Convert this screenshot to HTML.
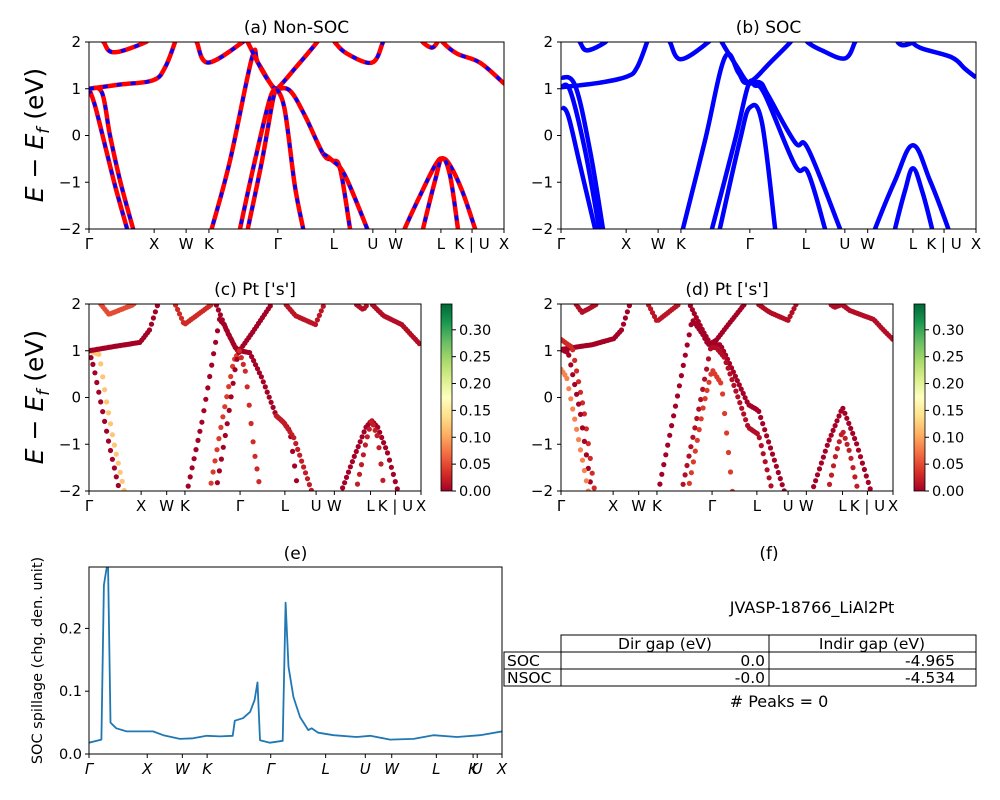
<!DOCTYPE html>
<html><head><meta charset="utf-8"><style>
html,body{margin:0;padding:0;background:#fff;}
svg{display:block;font-family:"DejaVu Sans","Liberation Sans",sans-serif;}
</style></head><body>
<svg id="fig" width="1000" height="800" viewBox="0 0 1000 800" xmlns="http://www.w3.org/2000/svg">
<defs>
<linearGradient id="rdylgn" x1="0" y1="1" x2="0" y2="0">
<stop offset="0" stop-color="#a50026"/><stop offset="0.1" stop-color="#d73027"/><stop offset="0.2" stop-color="#f46d43"/><stop offset="0.3" stop-color="#fdae61"/><stop offset="0.4" stop-color="#fee08b"/><stop offset="0.5" stop-color="#ffffbf"/><stop offset="0.6" stop-color="#d9ef8b"/><stop offset="0.7" stop-color="#a6d96a"/><stop offset="0.8" stop-color="#66bd63"/><stop offset="0.9" stop-color="#1a9850"/><stop offset="1" stop-color="#006837"/>
</linearGradient>
</defs>
</svg>
<script>
// ---------- data ----------
const bandTickLabels = ["Γ","X","W","K","Γ","L","U","W","L","K | U","X"];
const bandTickPos = [0,0.157,0.234,0.289,0.455,0.59,0.684,0.739,0.848,0.923,1];
const energyTicks = [-2,-1,0,1,2];
// non-SOC bands: [k, E] pairs
const nsocBands = [
 [[0,1.0],[0.0145,0.64],[0.0386,-0.21],[0.0627,-1.07],[0.0916,-1.99],[0.095,-2.1]],
 [[0,1.0],[0.031,0.92],[0.0506,0],[0.0747,-0.96],[0.106,-1.99],[0.11,-2.1]],
 [[0,1.0],[0.0747,1.09],[0.154,1.18],[0.183,1.45],[0.207,1.99],[0.21,2.1]],
 [[0.03,2.1],[0.036,1.99],[0.06,1.78],[0.135,1.99],[0.14,2.1]],
 [[0.255,2.1],[0.26,1.99],[0.287,1.56],[0.369,1.99],[0.375,2.1]],
 [[0.293,-2.1],[0.296,-1.99],[0.34,-0.53],[0.393,1.67],[0.407,1.56],[0.443,1.03],[0.453,1.0],[0.496,1.43],[0.549,1.99],[0.555,2.1]],
 [[0.378,2.1],[0.383,1.99],[0.417,1.39],[0.441,1.07],[0.453,1.0],[0.484,0.96],[0.52,0.43],[0.564,-0.39],[0.586,-0.53],[0.605,-0.71],[0.629,-1.99],[0.632,-2.1]],
 [[0.564,-0.39],[0.586,-0.53],[0.617,-0.86],[0.67,-1.99],[0.673,-2.1]],
 [[0.362,-2.1],[0.364,-1.99],[0.4,-0.53],[0.436,0.79],[0.453,1.0]],
 [[0.381,-2.1],[0.383,-1.99],[0.417,-0.53],[0.443,0.75],[0.453,1.0]],
 [[0.453,1.0],[0.472,0.53],[0.496,-1.07],[0.516,-1.99],[0.518,-2.1]],
 [[0.588,2.1],[0.593,1.99],[0.622,1.75],[0.682,1.56],[0.708,1.99],[0.712,2.1]],
 [[0.8,2.1],[0.805,1.99],[0.826,1.88],[0.839,1.99],[0.843,2.1]],
 [[0.848,2.1],[0.853,1.99],[0.887,1.75],[0.942,1.56],[0.998,1.13],[1.0,1.12]],
 [[0.758,-2.1],[0.761,-1.99],[0.798,-1.28],[0.834,-0.64],[0.851,-0.49],[0.87,-0.64],[0.899,-1.18],[0.93,-1.99],[0.933,-2.1]],
 [[0.803,-2.1],[0.805,-1.99],[0.834,-0.96],[0.851,-0.49],[0.87,-0.86],[0.889,-1.99],[0.891,-2.1]]
];
const nsocWeights = [0.0,0.12,0.0,0.05,0.03,0.0,0.0,0.02,0.04,0.0,0.03,0.015,0.01,0.01,0.0,0.02];
// SOC bands
const socBands = [
 [[0.04,2.1],[0.046,1.99],[0.063,1.82],[0.106,1.99],[0.11,2.1]],
 [[0,1.03],[0.094,1.13],[0.159,1.26],[0.183,1.45],[0.207,1.99],[0.21,2.1]],
 [[0,1.24],[0.034,1.07],[0.07,-0.32],[0.101,-1.99],[0.104,-2.1]],
 [[0,1.03],[0.022,0.96],[0.058,-0.32],[0.092,-1.99],[0.095,-2.1]],
 [[0,0.6],[0.017,0.43],[0.046,-0.64],[0.082,-1.99],[0.085,-2.1]],
 [[0.258,2.1],[0.263,1.99],[0.289,1.63],[0.354,1.99],[0.358,2.1]],
 [[0.292,-2.1],[0.294,-1.99],[0.347,-0.11],[0.395,1.67],[0.427,1.35],[0.443,1.13],[0.467,1.22],[0.504,1.56],[0.552,1.99],[0.556,2.1]],
 [[0.384,2.1],[0.388,1.99],[0.427,1.43],[0.451,1.13],[0.48,1.13],[0.499,0.86],[0.564,-0.15],[0.595,-0.28],[0.672,-1.99],[0.675,-2.1]],
 [[0.362,-2.1],[0.364,-1.99],[0.419,-0.11],[0.451,1.07],[0.467,1.07],[0.492,0.86],[0.564,-0.64],[0.595,-0.79],[0.636,-1.99],[0.638,-2.1]],
 [[0.381,-2.1],[0.383,-1.99],[0.431,-0.11],[0.455,0.6],[0.484,0.28],[0.516,-1.99],[0.518,-2.1]],
 [[0.59,2.1],[0.595,1.99],[0.629,1.82],[0.684,1.65],[0.708,1.99],[0.712,2.1]],
 [[0.808,2.1],[0.812,1.99],[0.824,1.93],[0.846,1.99],[0.85,2.1]],
 [[0.846,1.99],[0.87,1.86],[0.942,1.67],[0.973,1.43],[1.0,1.24]],
 [[0.755,-2.1],[0.757,-1.99],[0.805,-0.96],[0.848,-0.21],[0.889,-0.96],[0.933,-1.99],[0.935,-2.1]],
 [[0.803,-2.1],[0.805,-1.99],[0.829,-1.18],[0.848,-0.7],[0.87,-1.18],[0.894,-1.99],[0.896,-2.1]]
];
const socWeights = [0.01,0.0,0.03,0.0,0.08,0.015,0.0,0.0,0.01,0.04,0.01,0.01,0.01,0.0,0.02];
const cbarTicks = [0,0.05,0.1,0.15,0.2,0.25,0.3];
// spillage
const spillK = [0,0.03,0.036,0.042,0.046,0.052,0.066,0.091,0.155,0.18,0.22,0.252,0.285,0.317,0.348,0.353,0.373,0.39,0.401,0.408,0.414,0.438,0.469,0.476,0.483,0.495,0.511,0.531,0.539,0.555,0.592,0.648,0.681,0.729,0.786,0.834,0.891,0.947,1.0];
const spillV = [0.018,0.023,0.269,0.293,0.305,0.050,0.041,0.036,0.036,0.030,0.024,0.025,0.029,0.028,0.029,0.053,0.057,0.067,0.086,0.114,0.022,0.018,0.021,0.241,0.139,0.091,0.059,0.038,0.041,0.034,0.030,0.027,0.029,0.023,0.024,0.030,0.027,0.030,0.036];
const spillTickLabels = ["Γ","X","W","K","Γ","L","U","W","L","K","U","X"];
const spillTickPos = [0,0.141,0.226,0.286,0.44,0.573,0.669,0.733,0.841,0.93,0.94,1];
const spillYTicks = [0.0,0.1,0.2];
const tableRows = [["SOC","0.0","-4.965"],["NSOC","-0.0","-4.534"]];

// ---------- drawing ----------
const NS="http://www.w3.org/2000/svg";
const svg=document.getElementById('fig');
function mk(tag,attrs,parent){const e=document.createElementNS(NS,tag);for(const k in attrs)e.setAttribute(k,attrs[k]);(parent||svg).appendChild(e);return e;}
function txt(s,x,y,size,anchor,parent,extra){const t=mk('text',Object.assign({x:x,y:y,'font-size':size,'text-anchor':anchor||'middle',fill:'#000'},extra||{}),parent);t.textContent=s;return t;}
const stops=[[0,[165,0,38]],[0.1,[215,48,39]],[0.2,[244,109,67]],[0.3,[253,174,97]],[0.4,[254,224,139]],[0.5,[255,255,191]],[0.6,[217,239,139]],[0.7,[166,217,106]],[0.8,[102,189,99]],[0.9,[26,152,80]],[1,[0,104,55]]];
function cmap(v){let t=Math.max(0,Math.min(1,v/0.345));for(let i=1;i<stops.length;i++){if(t<=stops[i][0]){const a=stops[i-1],b=stops[i];const f=(t-a[0])/(b[0]-a[0]);const c=a[1].map((x,j)=>Math.round(x+(b[1][j]-x)*f));return `rgb(${c})`;}}return 'rgb(0,104,55)';}
function smoothPath(P){
  let d='M'+P[0][0].toFixed(1)+','+P[0][1].toFixed(1);
  for(let i=0;i<P.length-1;i++){
    const p0=P[Math.max(0,i-1)],p1=P[i],p2=P[i+1],p3=P[Math.min(P.length-1,i+2)];
    const t=0.18;
    const c1=[p1[0]+(p2[0]-p0[0])*t,p1[1]+(p2[1]-p0[1])*t];
    const c2=[p2[0]-(p3[0]-p1[0])*t,p2[1]-(p3[1]-p1[1])*t];
    d+=` C${c1[0].toFixed(1)},${c1[1].toFixed(1)} ${c2[0].toFixed(1)},${c2[1].toFixed(1)} ${p2[0].toFixed(1)},${p2[1].toFixed(1)}`;
  }
  return d;
}

let clipId=0;
function bandPanel(name,x0,y0,w,h,title,bands,mode,weights){
  const g=mk('g',{});
  
  
  const xs=k=>x0+k*w, ys=E=>y0+(2-E)/4*h;
  const cid='clip'+(clipId++);
  const cp=mk('clipPath',{id:cid},g);mk('rect',{x:x0,y:y0,width:w,height:h},cp);
  const plot=mk('g',{'clip-path':`url(#${cid})`},g);
  bands.forEach((b,i)=>{
    if(mode==='scatter'){
      const col=cmap(weights[i]);
      for(let k=b[0][0];k<=b[b.length-1][0];k+=1/170){
        let j=1;while(j<b.length-1&&b[j][0]<k)j++;
        const a=b[j-1],c=b[j];const f=(k-a[0])/((c[0]-a[0])||1);const E=a[1]+(c[1]-a[1])*f;
        if(E<-2.05||E>2.05)continue;
        const d=mk('circle',{cx:xs(k).toFixed(1),cy:ys(E).toFixed(1),r:2.6,fill:col},plot);
        
        
      }
    }else{
      const pd=smoothPath(b.map(p=>[xs(p[0]),ys(p[1])]));
      if(mode==='dashed'){
        const l=mk('path',{d:pd,fill:'none',stroke:'#ff0000','stroke-width':4.5,'stroke-linejoin':'round'},plot);
        
        
        mk('path',{d:pd,fill:'none',stroke:'#0000ff','stroke-width':3.5,'stroke-dasharray':'5,9','stroke-linejoin':'round'},plot);
      }else{
        const l=mk('path',{d:pd,fill:'none',stroke:'#0000ff','stroke-width':4.5,'stroke-linejoin':'round'},plot);
        
        
      }
    }
  });
  mk('rect',{x:x0,y:y0,width:w,height:h,fill:'none',stroke:'#000','stroke-width':1},g);
  energyTicks.forEach(E=>{const y=ys(E);mk('line',{x1:x0-4,x2:x0,y1:y,y2:y,stroke:'#000'},g);
    const t=txt(String(E).replace('-','−'),x0-8,y+5,15,'end',g);});
  bandTickPos.forEach((k,i)=>{const x=xs(k);mk('line',{x1:x,x2:x,y1:y0+h,y2:y0+h+4,stroke:'#000'},g);
    const t=txt(bandTickLabels[i],x,y0+h+20,15,'middle',g);});
  const tt=txt(title,x0+w/2,y0-9,17,'middle',g);
}
function colorbar(name,x0,y0,h){
  const g=mk('g',{});
  
  
  mk('rect',{x:x0,y:y0,width:11,height:h,fill:'url(#rdylgn)',stroke:'#000','stroke-width':0.8},g);
  cbarTicks.forEach(v=>{const y=y0+h-v/0.348*h;mk('line',{x1:x0+11,x2:x0+15,y1:y,y2:y,stroke:'#000'},g);
    const t=txt(v.toFixed(2),x0+18,y+5,14.5,'start',g);});
}
bandPanel('panel-a-non-soc',89,42,415,187,'(a) Non-SOC',nsocBands,'dashed');
bandPanel('panel-b-soc',561,42,415,187,'(b) SOC',socBands,'solid');
bandPanel('panel-c-pt-s-nsoc',89,304,332,187,"(c)  Pt ['s']",nsocBands,'scatter',nsocWeights);
bandPanel('panel-d-pt-s-soc',561,304,332,187,"(d) Pt ['s']",socBands,'scatter',socWeights);
colorbar('colorbar-c',441,304,187);
colorbar('colorbar-d',914,304,187);
[135,397].forEach(cy=>{const t=mk('text',{transform:`translate(43,${cy}) rotate(-90)`,'text-anchor':'middle','font-size':25,fill:'#000'});
  
  t.innerHTML='<tspan font-style="italic">E</tspan> − <tspan font-style="italic">E</tspan><tspan font-style="italic" font-size="17" dy="6">f</tspan><tspan dy="-6"> (eV)</tspan>';});

// panel e
(function(){
  const x0=89,y0=567,w=413,h=187,vmax=0.2978;
  const g=mk('g',{});
  
  
  const xs=k=>x0+k*w, ys=v=>y0+h-v/vmax*h;
  const cp=mk('clipPath',{id:'clipE'},g);mk('rect',{x:x0,y:y0,width:w,height:h},cp);
  const pts=spillK.map((k,i)=>xs(k).toFixed(1)+','+ys(spillV[i]).toFixed(1)).join(' ');
  const l=mk('polyline',{points:pts,fill:'none',stroke:'#1f77b4','stroke-width':1.8,'clip-path':'url(#clipE)','stroke-linejoin':'round'},g);
  
  
  mk('rect',{x:x0,y:y0,width:w,height:h,fill:'none',stroke:'#000'},g);
  spillYTicks.forEach(v=>{const y=ys(v);mk('line',{x1:x0-4,x2:x0,y1:y,y2:y,stroke:'#000'},g);
    const t=txt(v.toFixed(1),x0-7,y+5,14.5,'end',g);});
  spillTickPos.forEach((k,i)=>{const x=xs(k);mk('line',{x1:x,x2:x,y1:y0+h,y2:y0+h+4,stroke:'#000'},g);
    const t=txt(spillTickLabels[i],x,y0+h+20,15,'middle',g,{'font-style':'italic'});});
  const tt=txt('(e)',x0+w/2,y0-8,17,'middle',g);
  const yl=mk('text',{transform:`translate(42,${y0+h/2}) rotate(-90)`,'text-anchor':'middle','font-size':14.5,fill:'#000'},g);
  yl.textContent='SOC spillage (chg. den. unit)';
  
  
})();

// panel f table
(function(){
  const g=mk('g',{});
  
  
  let t=txt('(f)',769,559,17,'middle',g);
  t=txt('JVASP-18766_LiAl2Pt',812,613,16,'middle',g);
  const r=[635,652,669,686];
  mk('rect',{x:561,y:635,width:415,height:17,fill:'none',stroke:'#000'},g);
  mk('line',{x1:769,x2:769,y1:635,y2:686,stroke:'#000'},g);
  mk('rect',{x:504,y:652,width:472,height:34,fill:'none',stroke:'#000'},g);
  mk('line',{x1:504,x2:976,y1:669,y2:669,stroke:'#000'},g);
  mk('line',{x1:561,x2:561,y1:652,y2:686,stroke:'#000'},g);
  t=txt('Dir gap (eV)',665,649,15.5,'middle',g);
  t=txt('Indir gap (eV)',872,649,15.5,'middle',g);
  tableRows.forEach((row,i)=>{const y=r[i+1]+14;
    let a=txt(row[0],507,y,15.5,'start',g);
    a=txt(row[1],765,y,15.5,'end',g);
    a=txt(row[2],955,y,15.5,'end',g);});
  t=txt('# Peaks = 0',779,707,16,'middle',g);
})();
</script>
</body></html>
